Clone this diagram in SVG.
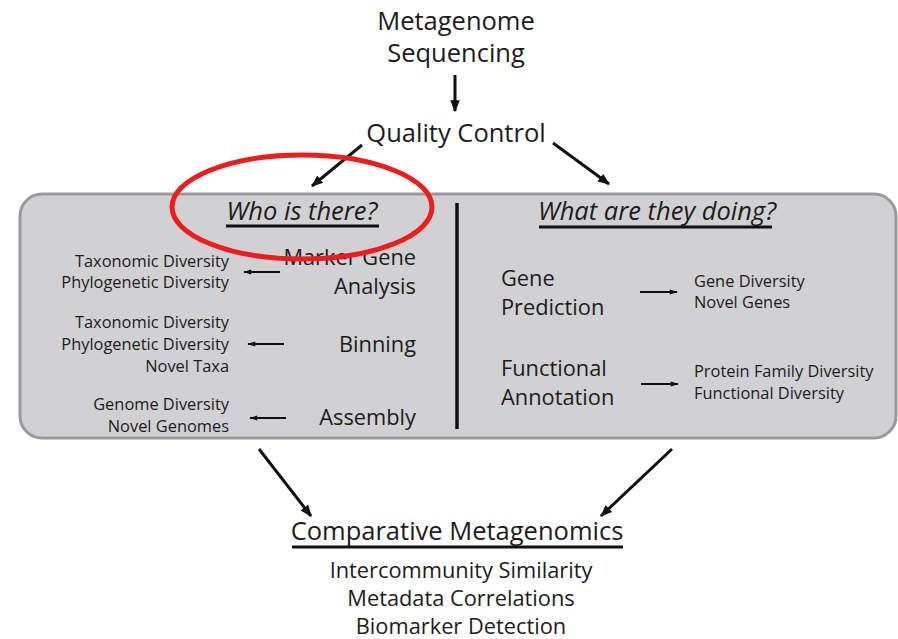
<svg xmlns="http://www.w3.org/2000/svg" width="898" height="639" viewBox="0 0 898 639">
  <style>
    text { font-family: "Open Sans", "Noto Sans", sans-serif; fill: #1c1c1c; }
    .big { font-size: 25.5px; }
    .mid { font-size: 21.8px; }
    .small { font-size: 16.4px; }
    .head { font-size: 25.5px; font-style: italic; }
    .conn { stroke: #111; stroke-width: 3; fill: none; }
    .thin { stroke: #111; stroke-width: 2; fill: none; }
    .rule { stroke: #111; stroke-width: 3; }
  </style>
  <defs>
    <marker id="head" viewBox="0 0 10 10" refX="9" refY="5" markerWidth="4" markerHeight="4" orient="auto" markerUnits="strokeWidth">
      <path d="M0,1 L10,5 L0,9 Z" fill="#111"/>
    </marker>
    <marker id="headSmall" viewBox="0 0 10 10" refX="9" refY="5" markerWidth="5" markerHeight="4" orient="auto" markerUnits="strokeWidth">
      <path d="M0,2 L10,5 L0,8 Z" fill="#111"/>
    </marker>
  </defs>

  <rect width="898" height="639" fill="#ffffff"/>

  <!-- panel holding the two analysis tracks -->
  <g id="panel">
    <rect x="20" y="194" width="876" height="244" rx="22" ry="22" fill="#d1d1d3" stroke="#9a9a9c" stroke-width="3"/>
    <line x1="457" y1="203" x2="457" y2="429" stroke="#111" stroke-width="3.5"/>
  </g>

  <g id="sequencing">
    <text class="big" x="456" y="30" text-anchor="middle">Metagenome</text>
    <text class="big" x="456" y="62" text-anchor="middle">Sequencing</text>
  </g>

  <g id="quality-control">
    <text class="big" x="456" y="142" text-anchor="middle">Quality Control</text>
  </g>

  <g id="who-is-there">
    <text class="head" x="302" y="220" text-anchor="middle">Who is there?</text>
    <line class="rule" x1="226" y1="226" x2="379" y2="226"/>
  </g>

  <g id="what-are-they-doing">
    <text class="head" x="657" y="220" text-anchor="middle">What are they doing?</text>
    <line class="rule" x1="539" y1="227" x2="772" y2="227"/>
  </g>

  <g id="marker-gene">
    <text class="mid" x="416" y="265" text-anchor="end">Marker Gene</text>
    <text class="mid" x="416" y="294" text-anchor="end">Analysis</text>
  </g>
  <g id="marker-gene-out">
    <text class="small" x="229" y="267" text-anchor="end">Taxonomic Diversity</text>
    <text class="small" x="229" y="288" text-anchor="end">Phylogenetic Diversity</text>
  </g>

  <g id="binning">
    <text class="mid" x="416" y="352" text-anchor="end">Binning</text>
  </g>
  <g id="binning-out">
    <text class="small" x="229" y="328" text-anchor="end">Taxonomic Diversity</text>
    <text class="small" x="229" y="350" text-anchor="end">Phylogenetic Diversity</text>
    <text class="small" x="229" y="372" text-anchor="end">Novel Taxa</text>
  </g>

  <g id="assembly">
    <text class="mid" x="416" y="425" text-anchor="end">Assembly</text>
  </g>
  <g id="assembly-out">
    <text class="small" x="229" y="410" text-anchor="end">Genome Diversity</text>
    <text class="small" x="229" y="432" text-anchor="end">Novel Genomes</text>
  </g>

  <g id="gene-prediction">
    <text class="mid" x="501" y="286">Gene</text>
    <text class="mid" x="501" y="315">Prediction</text>
  </g>
  <g id="gene-prediction-out">
    <text class="small" x="694" y="287">Gene Diversity</text>
    <text class="small" x="694" y="308">Novel Genes</text>
  </g>

  <g id="functional-annotation">
    <text class="mid" x="501" y="376">Functional</text>
    <text class="mid" x="501" y="405">Annotation</text>
  </g>
  <g id="functional-annotation-out">
    <text class="small" x="694" y="377">Protein Family Diversity</text>
    <text class="small" x="694" y="399">Functional Diversity</text>
  </g>

  <g id="comparative">
    <text x="457" y="540" text-anchor="middle" style="font-size:25.5px">Comparative Metagenomics</text>
    <line class="rule" x1="292" y1="547" x2="623" y2="547"/>
    <text class="mid" x="461" y="578" text-anchor="middle">Intercommunity Similarity</text>
    <text class="mid" x="461" y="606" text-anchor="middle">Metadata Correlations</text>
    <text class="mid" x="461" y="634" text-anchor="middle">Biomarker Detection</text>
  </g>

  <g id="connectors">
    <line class="conn" x1="455" y1="75" x2="455" y2="111" marker-end="url(#head)"/>
    <line class="conn" x1="362" y1="145" x2="312" y2="186" marker-end="url(#head)"/>
    <line class="conn" x1="553" y1="143" x2="609" y2="184" marker-end="url(#head)"/>
    <line class="thin" x1="280" y1="272" x2="244" y2="272" marker-end="url(#headSmall)"/>
    <line class="thin" x1="284" y1="344" x2="248" y2="344" marker-end="url(#headSmall)"/>
    <line class="thin" x1="286" y1="418" x2="250" y2="418" marker-end="url(#headSmall)"/>
    <line class="thin" x1="640" y1="292" x2="677" y2="292" marker-end="url(#headSmall)"/>
    <line class="thin" x1="641" y1="384" x2="678" y2="384" marker-end="url(#headSmall)"/>
    <line class="conn" x1="259" y1="449" x2="311" y2="516" marker-end="url(#head)"/>
    <line class="conn" x1="672" y1="449" x2="601" y2="516" marker-end="url(#head)"/>
  </g>

  <!-- highlight ring around the first question -->
  <g id="highlight">
    <ellipse cx="302" cy="207" rx="130" ry="52" fill="none" stroke="#ee1c1c" stroke-width="5"/>
  </g>
</svg>
